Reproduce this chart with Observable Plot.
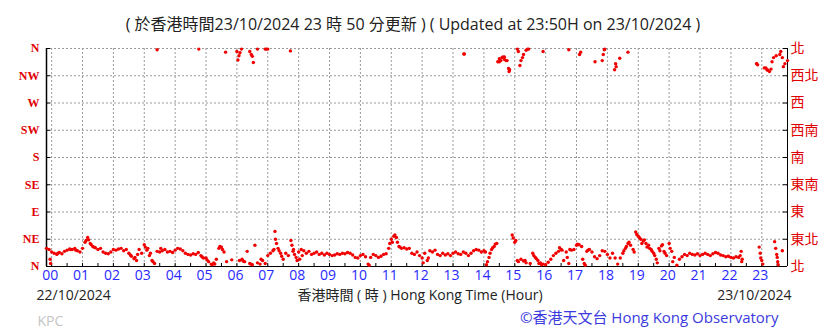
<!DOCTYPE html>
<html><head><meta charset="utf-8">
<script src="https://cdn.jsdelivr.net/npm/d3@7"></script>
<script src="https://cdn.jsdelivr.net/npm/@observablehq/plot@0.6"></script>
<style>body{margin:0;background:#fff}</style>
</head><body><div id="chart"></div>
<script>
// Wind direction (degrees), every 5 minutes from 22/10 23:50 to 23/10 23:50
const startTime = "22 23:50";
const endTime = "23:50";
const stepMinutes = 5;
const dirPre = [30, 28];
const h00 = [24, 22, 20, 23, 21, 25, 27, 29, 28, 30, 26, 24];
const h01 = [30, 40, 48, 38, 33, 31, 28, 30, 24, 22, 21, 24];
const h02 = [28, 27, 29, 30, 26, 28, 22, 17, 13, 10, 28, 22];
const h03 = [36, 27, 18, 10, 5, 25, 24, 26, 28, 24, 25, 23];
const h04 = [27, 30, 29, 26, 22, 20, 19, 21, 20, 23, 18, 14];
const h05 = [14, 8, 4, 6, 12, 30, 32, 24, 8, null, 11, null];
const h06 = [355, 10, 12, 8, 25, 5, 3, 35, 6, 4, 10, 5];
const h07 = [18, 22, 26, 45, 30, 22, 12, 22, 18, 43, 28, 15];
const h08 = [24, 28, 26, 22, 25, 20, 22, 24, 20, 22, 19, 22];
const h09 = [20, 18, 19, 21, 20, 22, 21, 23, 22, 19, 15, 14];
const h10 = [18, 20, 16, 4, 15, 20, 18, 15, 17, 20, 21, 30];
const h11 = [45, 50, 48, 33, 30, 31, 29, 30, 22, 20, 24, 18];
const h12 = [14, 22, 10, 26, 24, 27, 20, 18, 22, 19, 21, 18];
const h13 = [22, 24, 21, 20, 24, 22, 18, 22, 26, 28, 27, 24];
const h14 = [26, 3, 15, 28, 33, 38, 338, 345, 346, 340, 325, 52];
const h15 = [40, 10, 332, 345, 10, 359, 5, 22, 15, 10, 6, 4];
const h16 = [3, 7, 12, 18, 22, 25, 28, 10, 24, 5, 27, 28];
const h17 = [35, 36, 33, 5, 25, 28, 24, 16, 13, 18, 26, 25];
const h18 = [20, 14, 22, 14, 4, 14, 22, 30, 38, 35, 28, 57];
const h19 = [50, 45, 42, 38, 35, 28, 22, 12, 30, 34, 25, 18];
const h20 = [38, 25, 15, 2, 12, 16, 20, 18, 22, 20, 19, 21];
const h21 = [18, 20, 22, 20, 18, 21, 23, 22, 19, 18, 16, 17];
const h22 = [15, 14, 16, 15, 25, null, null, null, null, null, 335, 32];
const h23 = [10, 328, 325, 322, 338, 41, 15, 350, 26, 335, 340];

// Additional one-minute readings
const extraTimes = ["22 23:57","22 23:58","00:12","00:37","00:47","01:07","01:12","01:17","01:22",
  "02:33","02:42","02:47","03:02","03:07","03:12","03:17","03:32","04:52","05:02","05:12","05:17","05:27","05:32",
  "06:12","06:27","06:47","07:12","07:14","07:17","07:22","07:27","07:47","07:49","07:52","07:57","08:02","08:07",
  "10:17","10:57","11:02","11:07","11:12","11:17","12:02","12:12",
  "14:03","14:07","14:12","14:17","14:22","14:57","15:02","15:07","15:12","15:17","15:22","15:37","15:42","15:47","15:52",
  "16:27","16:32","16:42","16:47","17:02","17:12","17:17","17:22",
  "18:32","18:37","18:42","18:52","18:57","19:02","19:07","19:12","19:17","19:22","19:27","19:32","19:37","19:42","19:47","19:52",
  "20:02","20:07","22:18","22:21","22:22","22:57","22:58","23:02","23:27","23:29","23:31","23:32",
  "03:25","04:46","05:38","06:02","06:04","06:06","06:09","06:25","06:28","06:30","06:32","06:40","06:55","06:57","07:00","07:44",
  "13:21","13:22","14:27","14:30","14:33","14:37","14:40","14:43","14:48","14:49",
  "15:05","15:07","15:12","15:17","15:22","15:27","15:55","16:45","17:06","17:08","17:36","17:50","17:52","17:54","17:55",
  "18:14","18:16","18:17","18:24","18:40","22:50","22:52","23:08","23:12","23:18","23:23","23:28","23:37","23:40","23:42"];
const extraDirs = [12,5,22,28,27,43,44,36,32,
  19,15,20,32,30,22,8,30,16,11,3,4,33,28,
  9,4,12,28,58,38,26,17,35,25,20,10,12,18,
  2,38,40,52,40,32,6,14,
  24,8,22,31,37,47,43,8,12,9,6,18,13,5,3,
  31,27,15,28,37,12,2,27,
  26,33,40,24,53,48,38,44,32,30,25,18,6,26,36,22,
  30,8,18,8,12,22,14,4,30,20,8,3,
  358,359,354,341,348,353,359,355,350,347,337,359,359,359,359,356,
  351,351,338,343,340,346,342,340,327,322,
  359,355,340,350,357,359,355,358,350,354,338,340,350,358,359,
  325,335,330,344,354,335,333,328,324,326,345,348,355,345,330];

const levels = [0, 45, 90, 135, 180, 225, 270, 315, 360];
const leftLabels = ["N", "NE", "E", "SE", "S", "SW", "W", "NW", "N"];
const rightLabels = ["北", "東北", "東", "東南", "南", "西南", "西", "西北", "北"];
const hourLabels = ["00","01","02","03","04","05","06","07","08","09","10","11","12","13","14","15","16","17","18","19","20","21","22","23"];
const titleText = "( 於香港時間23/10/2024 23 時 50 分更新 ) ( Updated at 23:50H on 23/10/2024 )";
const startDate = "22/10/2024";
const endDate = "23/10/2024";
const axisTitle = "香港時間 ( 時 ) Hong Kong Time (Hour)";
const stationCode = "KPC";
const credit = "©香港天文台 Hong Kong Observatory";

function t(s) {
  const day = s.startsWith("22 ") ? 22 : 23;
  const [h, m] = s.replace("22 ", "").split(":").map(Number);
  return new Date(Date.UTC(2024, 9, day, h, m));
}
const x0 = t(startTime), x1 = t(endTime);
const mainDirs = [].concat(dirPre, h00, h01, h02, h03, h04, h05, h06, h07, h08, h09, h10, h11,
  h12, h13, h14, h15, h16, h17, h18, h19, h20, h21, h22, h23);
const mainData = mainDirs.map((d, i) => ({time: d3.utcMinute.offset(x0, i * stepMinutes), dir: d}));
const extraData = extraTimes.map((s, i) => ({time: t(s), dir: extraDirs[i]}));
const hourTicks = hourLabels.map(h => t(h + ":00"));
const halfTicks = d3.range(48).map(k => d3.utcMinute.offset(t("00:00"), 30 * k));

const sans = "'Open Sans', 'Noto Sans CJK TC', sans-serif";
const chart = Plot.plot({
  width: 838, height: 331,
  marginLeft: 46, marginRight: 51, marginTop: 48, marginBottom: 65,
  x: {type: "utc", domain: [x0, x1], axis: null},
  y: {domain: [0, 360], axis: null},
  style: {fontFamily: sans, background: "white", overflow: "visible"},
  marks: [
    Plot.ruleX(hourTicks, {stroke: "#9a9a9a", strokeDasharray: "2,2"}),
    Plot.ruleY(levels, {stroke: "#9a9a9a", strokeDasharray: "2,2"}),
    Plot.ruleY([0], {stroke: "black"}),
    Plot.ruleX([x0], {stroke: "black", strokeWidth: 1.5}),
    Plot.ruleX([x1], {stroke: "black"}),
    Plot.ruleY(levels, {x1: x0, x2: d3.utcMinute.offset(x0, 8), stroke: "black"}),
    Plot.ruleY(levels, {x1: d3.utcMinute.offset(x1, -8), x2: x1, stroke: "black"}),
    Plot.ruleX(halfTicks, {y1: 0, y2: 5, stroke: "black"}),
    Plot.dot(mainData, {x: "time", y: "dir", r: 1.7, fill: "#f00000"}),
    Plot.dot(extraData, {x: "time", y: "dir", r: 1.7, fill: "#f00000"}),
    Plot.text(levels, {x: x0, y: d => d, dx: -7, textAnchor: "end", text: (d, i) => leftLabels[i],
      fill: "#e00000", fontFamily: "'Liberation Serif', serif", fontWeight: "bold", fontSize: 12, lineAnchor: "middle"}),
    Plot.text(levels, {x: x1, y: d => d, dx: 3, textAnchor: "start", text: (d, i) => rightLabels[i],
      fill: "#e00000", fontFamily: "'Noto Sans CJK TC', sans-serif", fontSize: 14, lineAnchor: "middle"}),
    Plot.text(hourTicks, {x: d => d, frameAnchor: "bottom", dy: 9.5, dx: -1.5, text: (d, i) => hourLabels[i],
      fill: "#2a2aff", fontSize: 14, lineAnchor: "middle"}),
    Plot.text([titleText], {frameAnchor: "top", dy: -24, dx: -4, text: d => d, fill: "#222", fontSize: 16, lineAnchor: "middle"}),
    Plot.text([startDate], {frameAnchor: "bottom-left", dx: -10, dy: 29, textAnchor: "start", text: d => d, fill: "#222", fontSize: 14, lineAnchor: "middle"}),
    Plot.text([axisTitle], {frameAnchor: "bottom", dx: 3, dy: 29, text: d => d, fill: "#222", fontSize: 14, lineAnchor: "middle"}),
    Plot.text([endDate], {frameAnchor: "bottom-right", dx: 4, dy: 29, textAnchor: "end", text: d => d, fill: "#222", fontSize: 14, lineAnchor: "middle"}),
    Plot.text([stationCode], {frameAnchor: "bottom-left", dx: -9, dy: 55, textAnchor: "start", text: d => d, fill: "#c4c4c4", fontSize: 14, lineAnchor: "middle"}),
    Plot.text([credit], {frameAnchor: "bottom-right", dx: -9, dy: 52, textAnchor: "end", text: d => d, fill: "#3b3bdd", fontSize: 15, lineAnchor: "middle"})
  ]
});
document.getElementById("chart").appendChild(chart);
</script>
</body></html>
